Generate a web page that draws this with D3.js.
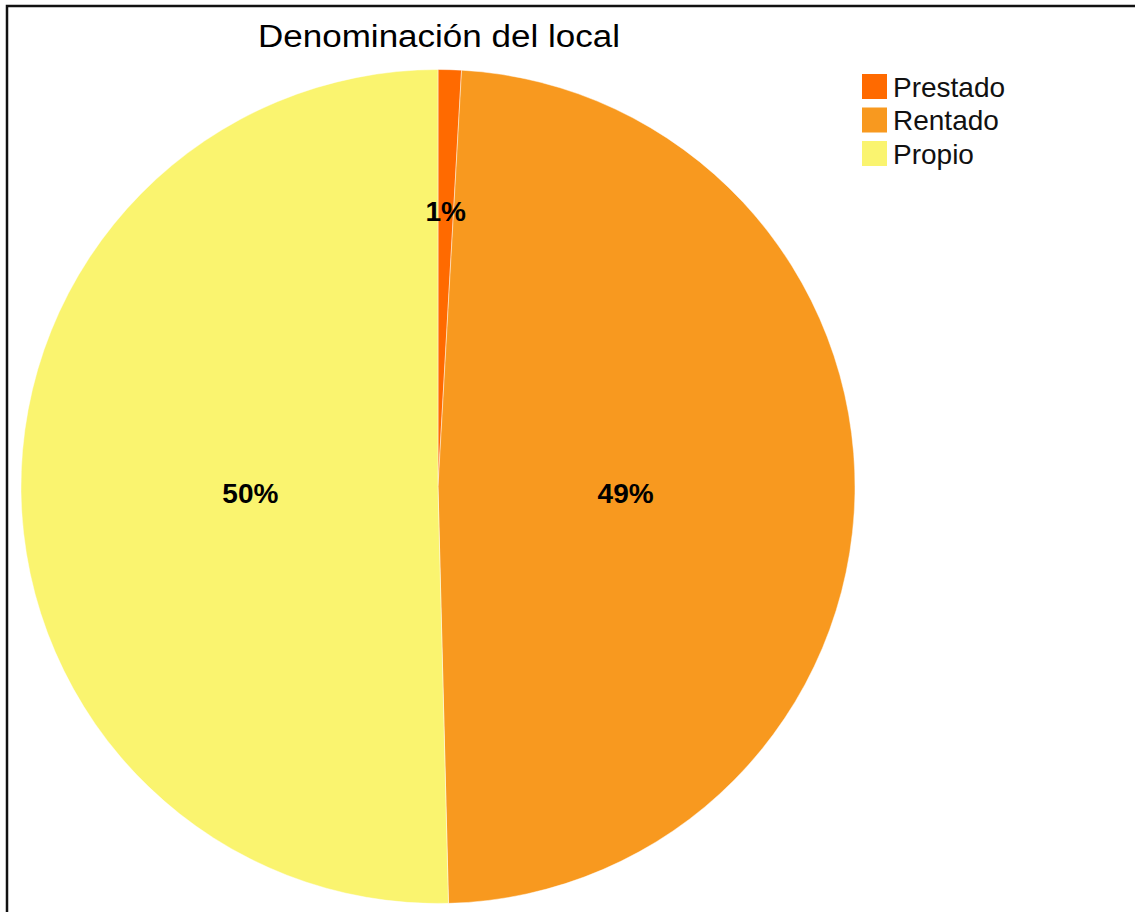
<!DOCTYPE html>
<html>
<head>
<meta charset="utf-8">
<script src="https://cdn.jsdelivr.net/npm/d3@7"></script>
<style>
  html, body { margin: 0; padding: 0; background: #fff; }
  svg { display: block; }
</style>
</head>
<body>
<svg id="chart" width="1135" height="912"></svg>
<script>
const title = "Denominación del local";
const categories = ["Prestado", "Rentado", "Propio"];
const values = [0.9, 48.7, 50.4];
const colors = ["#ff6a00", "#f8991f", "#faf46f"];

const svg = d3.select("#chart");
const W = 1135, H = 912;
const cx = 438, cy = 486.5, R = 417;

// frame
svg.append("rect")
  .attr("x", 7).attr("y", 6)
  .attr("width", W + 20).attr("height", H + 20)
  .attr("fill", "#fff")
  .attr("stroke", "#111").attr("stroke-width", 2.5);

// title
svg.append("text")
  .attr("x", 439).attr("y", 47)
  .attr("text-anchor", "middle")
  .attr("font-family", "Liberation Sans, Arial, sans-serif")
  .attr("font-size", 31)
  .attr("textLength", 362)
  .attr("lengthAdjust", "spacingAndGlyphs")
  .attr("fill", "#000")
  .text(title);

const data = categories.map((c, i) => ({ name: c, value: values[i], color: colors[i] }));
const total = d3.sum(values);

const pie = d3.pie().value(d => d.value).sort(null).startAngle(0).endAngle(2 * Math.PI);
const arcs = pie(data);
const arc = d3.arc().innerRadius(0).outerRadius(R);

const g = svg.append("g").attr("transform", `translate(${cx},${cy})`);
g.selectAll("path.slice")
  .data(arcs)
  .join("path")
  .attr("class", "slice")
  .attr("d", arc)
  .attr("fill", d => d.data.color)
  .attr("stroke", "rgba(255,255,255,0.45)")
  .attr("stroke-width", 1);

g.selectAll("text.lbl")
  .data(arcs)
  .join("text")
  .attr("class", "lbl")
  .attr("transform", d => {
    const frac = d.data.value / total;
    const r = frac < 0.05 ? R * 0.66 : R * 0.45;
    const a = (d.startAngle + d.endAngle) / 2;
    const dy = frac < 0.05 ? 10 : 14;
    return `translate(${r * Math.sin(a)},${-r * Math.cos(a) + dy})`;
  })
  .attr("text-anchor", "middle")
  .attr("font-family", "Liberation Sans, Arial, sans-serif")
  .attr("font-weight", "bold")
  .attr("font-size", 28)
  .attr("fill", "#000")
  .text(d => Math.round(d.data.value / total * 100) + "%");

// legend
const lg = svg.append("g").attr("transform", "translate(862,74)");
const rows = lg.selectAll("g").data(data).join("g")
  .attr("transform", (d, i) => `translate(0,${i * 33.5})`);
rows.append("rect")
  .attr("width", 25).attr("height", 25)
  .attr("fill", d => d.color);
rows.append("text")
  .attr("x", 31).attr("y", 22.5)
  .attr("font-family", "Liberation Sans, Arial, sans-serif")
  .attr("font-size", 28)
  .attr("fill", "#111")
  .text(d => d.name);
</script>
</body>
</html>
